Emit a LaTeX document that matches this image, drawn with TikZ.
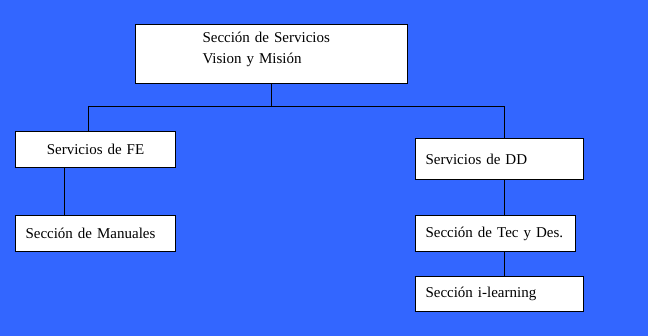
\documentclass[tikz,border=0pt]{standalone}
\usepackage{fontspec}
\setmainfont{Liberation Serif}
\usetikzlibrary{positioning}
\definecolor{bgblue}{RGB}{51,102,255}

\begin{document}
\begin{tikzpicture}[
  x=1pt, y=-1pt,
  orgbox/.style = {rectangle, draw=black, line width=1pt, fill=white,
                   anchor=north west, inner xsep=10pt, inner ysep=0pt,
                   font=\fontsize{15}{21}\selectfont},
  link/.style = {line width=1pt, black}
]
\fill[bgblue] (0,0) rectangle (648,336);
\useasboundingbox (0,0) rectangle (648,336);
% boxes
\node[orgbox, minimum width=272pt, minimum height=59pt, inner xsep=67pt, text width=138pt, text depth=33pt, align=left] (top) at (135,24) {Sección de Servicios\\Vision y Misión};
\node[orgbox, minimum width=160pt, minimum height=36pt, text width=140pt, align=center] (fe) at (15,131) {Servicios de FE};
\node[orgbox, minimum width=160pt, minimum height=36pt, text width=140pt, align=left] (man) at (15,215) {Sección de Manuales};
\node[orgbox, minimum width=168pt, minimum height=41pt, text width=148pt, align=left] (dd) at (415,138) {Servicios de DD};
\node[orgbox, minimum width=160pt, minimum height=36pt, text width=140pt, align=left] (tec) at (415,215) {Sección de Tec y Des.};
\node[orgbox, minimum width=168pt, minimum height=35pt, text width=148pt, align=left] (ilearn) at (415,276) {Sección i-learning};
% connectors
\coordinate (jl) at (88,107);
\coordinate (jr) at (504,107);
\draw[link] (top.south) |- (jl) -- (jl |- fe.north);
\draw[link] (top.south |- jl) -- (jr) -- (jr |- dd.north);
\draw[link] ([xshift=-31pt]fe.south) -- ([xshift=-31pt]fe.south |- man.north);
\draw[link] (jr |- dd.south) -- (jr |- tec.north);
\draw[link] (jr |- tec.south) -- (jr |- ilearn.north);
\end{tikzpicture}
\end{document}
